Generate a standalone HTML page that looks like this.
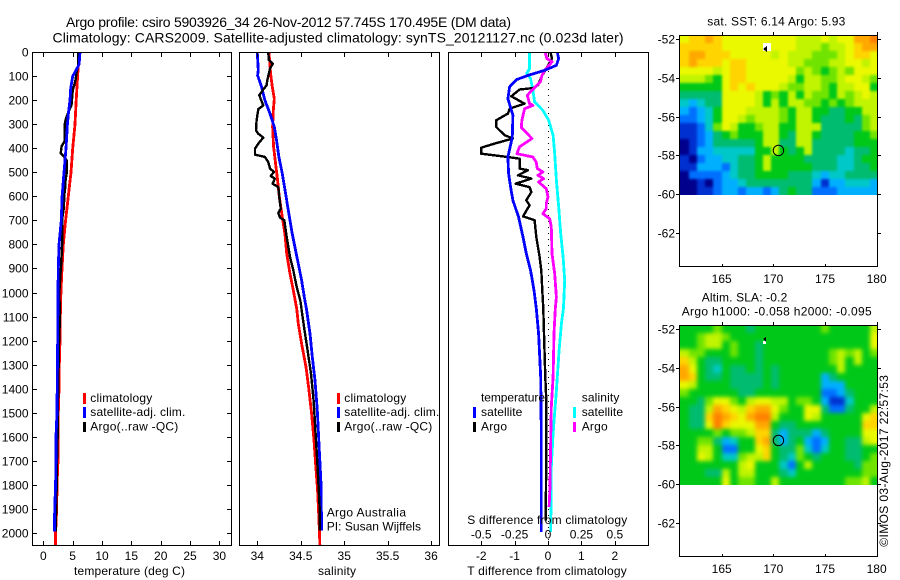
<!DOCTYPE html>
<html lang="en">
<head>
<meta charset="utf-8">
<title>Argo profile csiro 5903926_34</title>
<style>
  html, body { margin: 0; padding: 0; background: #fff; }
  svg { display: block; font-family: "Liberation Sans", sans-serif; font-size: 12px; fill: #000; }
  .title { font-size: 14px; }
  .frame { fill: none; stroke: #000; stroke-width: 1; shape-rendering: crispEdges; }
  .sw { shape-rendering: crispEdges; }
</style>
</head>
<body>
<svg id="chart" xmlns="http://www.w3.org/2000/svg" width="900" height="580" viewBox="0 0 900 580">
  <defs>
    <filter id="smoothSst" x="-5%" y="-5%" width="110%" height="110%" color-interpolation-filters="sRGB">
      <feGaussianBlur stdDeviation="1.2"/>
      <feComponentTransfer><feFuncA type="linear" slope="60"/></feComponentTransfer>
    </filter>
    <filter id="smoothSla" x="-8%" y="-8%" width="116%" height="116%" color-interpolation-filters="sRGB">
      <feGaussianBlur stdDeviation="2.2"/>
      <feComponentTransfer><feFuncA type="linear" slope="60"/></feComponentTransfer>
    </filter>
    <clipPath id="clipSst"><rect x="680" y="36" width="197" height="159"/></clipPath>
    <clipPath id="clipSla"><rect x="680" y="326" width="197" height="159"/></clipPath>
  </defs>
  <rect x="0" y="0" width="900" height="580" fill="#fff"/>

  <g clip-path="url(#clipSst)"><g id="sstCells" filter="url(#smoothSst)"></g></g>
  <g clip-path="url(#clipSla)"><g id="slaCells" filter="url(#smoothSla)"></g></g>
  <g id="maps"></g>
  <g id="marks"></g>
  <g id="axes"></g>

  <rect class="frame" x="32.5" y="52.5" width="199" height="493"/>
  <rect class="frame" x="239.5" y="52.5" width="200" height="493"/>
  <rect class="frame" x="448.5" y="52.5" width="200" height="493"/>
  <rect class="frame" x="679.5" y="35.5" width="198" height="231"/>
  <rect class="frame" x="679.5" y="325.5" width="198" height="231"/>

  <text class="title" x="66" y="27" textLength="445" lengthAdjust="spacing">Argo profile: csiro 5903926_34 26-Nov-2012 57.745S 170.495E (DM data)</text>
  <text class="title" x="52.5" y="42.5" textLength="571" lengthAdjust="spacing">Climatology: CARS2009. Satellite-adjusted climatology: synTS_20121127.nc (0.023d later)</text>

  <text x="74" y="575" textLength="111" lengthAdjust="spacing">temperature (deg C)</text>
  <text x="318" y="575" textLength="38" lengthAdjust="spacing">salinity</text>
  <text x="467.3" y="575" textLength="159.5" lengthAdjust="spacing">T difference from climatology</text>
  <text x="467.3" y="524" textLength="160" lengthAdjust="spacing">S difference from climatology</text>

  <g>
    <rect class="sw" x="83" y="393" width="3" height="11" fill="#f00"/>
    <rect class="sw" x="83" y="407" width="3" height="11" fill="#00f"/>
    <rect class="sw" x="83" y="422" width="3" height="10" fill="#000"/>
    <text x="90.3" y="402" textLength="62" lengthAdjust="spacing">climatology</text>
    <text x="90.3" y="416" textLength="95" lengthAdjust="spacing">satellite-adj. clim.</text>
    <text x="90.3" y="430.5" textLength="88" lengthAdjust="spacing">Argo(..raw -QC)</text>
  </g>
  <g>
    <rect class="sw" x="337" y="393" width="3" height="11" fill="#f00"/>
    <rect class="sw" x="337" y="407" width="3" height="11" fill="#00f"/>
    <rect class="sw" x="337" y="422" width="3" height="10" fill="#000"/>
    <text x="344.3" y="402" textLength="62" lengthAdjust="spacing">climatology</text>
    <text x="344.3" y="416" textLength="95" lengthAdjust="spacing">satellite-adj. clim.</text>
    <text x="344.3" y="430.5" textLength="88" lengthAdjust="spacing">Argo(..raw -QC)</text>
    <text x="326.7" y="516.7" textLength="79.3" lengthAdjust="spacing">Argo Australia</text>
    <text x="326.7" y="530.7" textLength="94.3" lengthAdjust="spacing">PI: Susan Wijffels</text>
  </g>
  <g>
    <text x="481" y="401.7" textLength="64" lengthAdjust="spacing">temperature</text>
    <rect class="sw" x="473" y="407" width="3" height="11" fill="#00f"/>
    <rect class="sw" x="473" y="422" width="3" height="10" fill="#000"/>
    <text x="481" y="416" textLength="41.3" lengthAdjust="spacing">satellite</text>
    <text x="481" y="430.5" textLength="26" lengthAdjust="spacing">Argo</text>
    <text x="581.7" y="401.7" textLength="37.7" lengthAdjust="spacing">salinity</text>
    <rect class="sw" x="573" y="407" width="3" height="11" fill="#0ff"/>
    <rect class="sw" x="573" y="422" width="3" height="10" fill="#f0f"/>
    <text x="581.7" y="416" textLength="41.3" lengthAdjust="spacing">satellite</text>
    <text x="581.7" y="430.5" textLength="26" lengthAdjust="spacing">Argo</text>
  </g>

  <text x="707.3" y="25.7" textLength="138" lengthAdjust="spacing">sat. SST: 6.14  Argo: 5.93</text>
  <text x="701.7" y="301.3" textLength="85.6" lengthAdjust="spacing">Altim. SLA: -0.2</text>
  <text x="681.7" y="315.7" textLength="190" lengthAdjust="spacing">Argo h1000: -0.058 h2000: -0.095</text>
  <text transform="translate(888 546.7) rotate(-90)" x="0" y="0" textLength="171.7" lengthAdjust="spacing">©IMOS 03-Aug-2017 22:57:53</text>
</svg>

<script>
/* ---------- temperature panel data (deg C vs depth in m) ---------- */
const tempClimDepth = [0,80,200,300,400,500,600,700,800,900,1000,1100,1200,1300,1400,1500,1600,1700,1800,1900,2000,2053];
const tempClimValue = [6.08,5.9,5.6,5.4,5.0,4.72,4.26,3.8,3.4,3.18,3.0,2.9,2.85,2.72,2.68,2.56,2.52,2.5,2.33,2.28,2.1,2.1];
const tempSatDepth = [0,50,60,100,150,200,250,300,400,500,600,700,800,900,1000,1200,1300,1400,1500,1600,1700,1800,1900,1995];
const tempSatValue = [6.25,6.1,5.9,5.0,4.67,4.55,4.3,4.1,3.87,3.52,3.2,3.07,2.67,2.56,2.5,2.45,2.4,2.36,2.33,2.16,2.14,2.1,1.94,1.9];
const tempArgoDepth = [0,50,80,120,160,220,250,280,300,350,370,390,420,430,450,500,530,560,590,650,690,800,900,1000,1100,1200,1300,1400,1500,1600,1700,1800,1900,1995];
const tempArgoValue = [5.97,5.97,5.7,5.45,5.0,4.8,4.26,3.8,3.64,3.64,3.64,3.13,2.96,3.4,3.98,4.0,3.8,3.75,3.6,3.5,3.24,3.2,3.0,2.72,2.84,2.7,2.6,2.55,2.45,2.44,2.33,2.28,2.2,2.1];

/* ---------- salinity panel data ---------- */
const salClimDepth = [3,33,89,144,193,242,311,394,464,533,602,686,755,838,922,991,1067,1130,1213,1310,1407,1504,1615,1713,1824,1949,2053];
const salClimValue = [34.134,34.142,34.153,34.173,34.196,34.184,34.176,34.188,34.211,34.234,34.253,34.288,34.318,34.338,34.376,34.414,34.453,34.472,34.51,34.56,34.595,34.625,34.652,34.671,34.694,34.71,34.72];
const salSatDepth = [3,75,96,144,200,255,311,367,436,505,588,658,741,811,880,949,1019,1067,1171,1268,1366,1491,1657,1796,1990];
const salSatValue = [34.0,34.012,34.004,34.05,34.088,34.146,34.196,34.222,34.249,34.288,34.326,34.357,34.395,34.433,34.472,34.51,34.541,34.565,34.606,34.633,34.664,34.69,34.713,34.733,34.74];
const salArgoDepth = [3,33,47,68,117,137,155,179,214,221,237,283,325,339,355,380,401,426,436,457,484,498,515,526,547,561,602,651,669,688,699,769,852,907,977,1033,1143,1241,1338,1449,1588,1727,1893,1990];
const salArgoValue = [34.127,34.134,34.18,34.146,34.115,34.107,34.069,34.023,34.061,34.069,34.012,33.992,33.985,34.012,34.069,34.012,33.973,33.973,34.088,34.127,34.146,34.192,34.154,34.203,34.176,34.242,34.253,34.269,34.242,34.261,34.311,34.338,34.376,34.414,34.453,34.495,34.537,34.579,34.618,34.648,34.671,34.694,34.717,34.72];

/* ---------- difference panel data ---------- */
const diffTSatDepth = [3,26,54,75,96,114,144,193,262,353,436,505,561,616,686,769,838,908,991,1067,1171,1352,1588,1997];
const diffTSatValue = [0.28,0.32,0.25,-0.1,-0.6,-0.95,-1.15,-1.2,-1.05,-1.07,-1.2,-1.18,-1.12,-1.05,-0.88,-0.75,-0.65,-0.52,-0.42,-0.35,-0.28,-0.22,-0.2,-0.2];
const diffTArgoDepth = [3,26,68,103,137,149,155,183,214,235,255,283,311,345,359,380,397,422,436,443,484,491,512,526,547,561,582,616,637,683,699,769,852,908,991,1067,1171,1352,1449,1671,1949];
const diffTArgoValue = [0.08,0.12,-0.05,-0.2,-0.3,-0.45,-0.85,-1.1,-0.7,-1.15,-1.2,-1.55,-1.55,-1.3,-1.05,-1.6,-2,-2,-1.2,-0.85,-0.85,-0.6,-0.9,-0.5,-0.97,-0.55,-0.5,-0.65,-0.55,-0.75,-0.4,-0.35,-0.25,-0.2,-0.17,-0.14,-0.12,-0.08,-0.05,-0.05,-0.07];
const diffSSatDepth = [3,68,86,110,158,207,242,283,345,422,533,644,755,852,949,1019,1067,1130,1241,1407,1588,1727,1997];
const diffSSatValue = [-0.138,-0.138,-0.158,-0.13,-0.113,-0.1,-0.038,0.005,0.038,0.05,0.063,0.08,0.095,0.113,0.125,0.12,0.115,0.1,0.083,0.063,0.038,0.025,0.02];
const diffSArgoDepth = [3,26,40,75,96,123,158,179,214,221,235,283,314,359,394,422,436,457,484,498,512,526,540,568,602,630,651,672,693,727,838,922,1019,1067,1171,1352,1477,1615,1810,1893];
const diffSArgoValue = [-0.02,-0.008,0.03,-0.025,-0.045,-0.058,-0.12,-0.155,-0.138,-0.113,-0.175,-0.195,-0.2,-0.12,-0.213,-0.233,-0.113,-0.088,-0.08,-0.038,-0.075,-0.033,-0.07,-0.013,0,-0.013,-0.013,-0.038,0.013,0.025,0.03,0.05,0.063,0.055,0.045,0.038,0.025,0.02,0.015,0.008];

/* ---------- tick labels ---------- */
const depthTicks = [0,100,200,300,400,500,600,700,800,900,1000,1100,1200,1300,1400,1500,1600,1700,1800,1900,2000];
const tempTicks = [0,5,10,15,20,25,30];
const salTicks = [34,34.5,35,35.5,36];
const diffTTicks = [-2,-1,0,1,2];
const diffSTicks = [-0.5,-0.25,0,0.25,0.5];
const latTicks = [-52,-54,-56,-58,-60,-62];
const lonTicks = [165,170,175,180];
const floatLon = 170.495;
const floatLat = -57.745;

/* ---------- SST map (colour level per cell, null = no data) ---------- */
const sstGrid = [
[9,10,10,11,10,9,9,9,9,9,9,9,9,9,8,8,8,9,8,9,9,11,11,12],
[10,10,10,10,10,9,9,9,9,9,null,9,9,9,8,8,8,7,8,8,9,10,11,11],
[10,11,11,10,10,10,9,9,9,9,9,8,9,8,8,8,7,7,7,8,9,10,10,9],
[10,11,10,10,10,9,10,10,9,9,9,9,9,8,8,7,7,7,8,8,9,9,8,9],
[9,9,9,9,8,9,10,10,9,9,9,9,9,9,7,8,7,6,7,8,7,9,9,9],
[8,8,8,7,6,9,10,10,9,9,9,9,9,8,6,8,8,7,7,8,9,9,8,7],
[6,6,6,6,6,9,10,9,10,9,9,9,8,7,7,8,8,7,6,8,8,9,9,6],
[5,5,5,5,5,9,9,9,9,8,6,7,6,8,6,8,7,7,6,8,7,8,9,8],
[4,3,4,5,5,9,9,9,9,8,6,8,6,8,8,7,7,6,7,6,7,8,8,8],
[3,2,3,4,6,9,9,9,8,8,8,8,7,6,8,8,6,6,5,5,6,6,8,8],
[2,2,3,4,6,9,9,8,7,8,8,8,7,6,8,8,6,5,5,5,6,5,7,8],
[1,1,2,4,7,9,8,6,6,7,8,8,6,6,8,8,8,5,5,5,5,5,7,8],
[1,1,2,3,5,6,7,6,6,6,8,8,6,5,8,8,6,5,5,5,5,6,6,7],
[0,1,2,3,5,5,5,5,5,6,8,8,5,5,8,8,5,5,5,5,5,6,6,6],
[0,1,3,3,4,4,4,4,4,6,6,8,6,5,6,8,5,5,5,5,4,5,5,6],
[1,0,2,3,3,4,4,5,5,6,8,6,6,6,6,5,5,5,5,4,4,5,6,6],
[1,1,3,3,3,2,4,5,5,6,8,6,6,6,6,6,5,5,5,4,4,5,5,6],
[0,2,2,2,2,3,4,5,5,6,6,6,6,5,5,5,4,3,4,4,5,5,5,5],
[0,0,1,0,2,3,3,4,5,5,5,5,5,5,5,5,3,1,3,3,4,4,4,3],
[0,0,1,1,2,3,3,2,3,3,2,3,5,6,5,5,2,2,2,3,3,3,3,3]
];

/* ---------- altimetry SLA map (colour level per cell) ---------- */
const slaGrid = [
[6,6,6,6,7,6,6,6,5,6,6,6,6,6,6,6,6,7,6,6,6,6,6,8],
[6,6,7,8,8,7,6,6,6,6,6,6,6,6,6,6,6,6,6,6,6,6,6,9],
[6,6,7,8,8,6,7,6,6,5,6,6,6,6,6,6,6,6,6,6,6,6,6,9],
[8,7,7,6,6,6,7,6,6,5,6,6,6,6,6,6,6,6,7,8,7,8,6,7],
[10,8,6,5,5,6,6,6,6,5,6,6,6,6,6,6,6,6,7,8,6,8,6,6],
[11,9,6,5,4,6,5,5,6,5,6,5,6,6,6,6,6,6,6,8,6,6,6,6],
[11,10,6,5,5,6,5,5,5,5,6,5,6,6,6,6,6,3,5,6,6,6,6,6],
[9,8,6,6,6,6,5,5,5,5,6,5,6,6,6,6,6,3,3,3,6,6,6,6],
[7,6,6,6,6,6,6,5,5,6,6,6,6,6,6,6,6,2,2,3,5,6,6,6],
[6,6,5,7,9,9,7,6,8,9,9,8,8,6,7,7,6,3,1,1,4,6,6,6],
[6,5,5,8,11,10,9,8,10,11,11,9,7,6,6,9,9,5,2,2,5,6,6,8],
[6,5,5,10,12,11,10,9,11,12,12,8,6,6,6,9,8,6,6,6,6,6,9,10],
[6,5,5,9,12,10,9,9,9,11,11,6,5,5,6,6,6,6,6,6,6,6,10,10],
[6,6,6,6,7,6,7,7,8,10,10,5,3,5,5,5,3,5,6,6,6,6,9,9],
[6,6,7,7,5,3,4,6,6,10,11,5,3,5,6,3,2,3,6,6,5,5,8,9],
[6,6,8,8,6,2,2,6,6,9,10,6,5,5,7,4,2,4,6,6,5,5,6,6],
[6,6,9,8,6,4,4,7,8,8,10,6,5,4,7,6,5,6,6,6,5,5,6,7],
[6,6,6,6,6,6,6,8,9,6,6,6,4,2,6,8,6,6,6,6,6,5,7,7],
[6,6,6,5,5,8,6,8,8,6,6,6,5,4,6,6,6,6,6,6,6,6,7,7],
[6,6,6,6,6,9,6,7,7,6,6,8,6,6,6,6,6,6,6,6,7,7,8,6]
];

const levelColours = ['#00008c','#0030d0','#0070ff','#00b0ff','#00c8c8','#00bc70','#00c818','#70e400','#c0f400','#eaf800','#ffd400','#ffa800','#ff8000'];

const NS = 'http://www.w3.org/2000/svg';
const mapsLayer = document.getElementById('maps');
const sstLayer = document.getElementById('sstCells');
const slaLayer = document.getElementById('slaCells');
const marksLayer = document.getElementById('marks');
const axesLayer = document.getElementById('axes');

function mk(parent, tag, attrs, name) {
  const el = document.createElementNS(NS, tag);
  for (const k in attrs) el.setAttribute(k, attrs[k]);
  
  
  parent.appendChild(el);
  return el;
}
function label(str, x, y, anchor, name) {
  const t = mk(axesLayer, 'text', { x: x, y: y, 'text-anchor': anchor }, name);
  t.textContent = str;
  return t;
}
function tick(x1, y1, x2, y2, name) {
  mk(axesLayer, 'line', { x1: x1, y1: y1, x2: x2, y2: y2, stroke: '#000', 'stroke-width': 1, 'shape-rendering': 'crispEdges' }, name);
}

/* axis functions */
const depthY = d => 52.3 + d * 0.2402;
const tempX = t => 43.3 + t * 5.87;
const salX = s => 257.3 + (s - 34) * 86.9;
const diffTX = t => 548 + t * 33.4;
const diffSX = s => diffTX(s * 4);
const lonX = lon => 721.7 + (lon - 165) * 10.33;
const latOffsetTop = 39, latOffsetBottom = 329;
const latY = (lat, top) => top + (-52 - lat) * 19.4;

function drawSeries(depths, values, xFn, colour, width, name) {
  const pts = depths.map((d, i) => xFn(values[i]).toFixed(1) + ',' + depthY(d).toFixed(1)).join(' ');
  mk(marksLayer, 'polyline', {
    points: pts, fill: 'none', stroke: colour, 'stroke-width': width,
    'stroke-linejoin': 'round', 'shape-rendering': 'crispEdges'
  }, name);
}

/* profile lines */
drawSeries(tempClimDepth, tempClimValue, tempX, '#f00', 2.8, 'temperature-climatology-line');
drawSeries(tempArgoDepth, tempArgoValue, tempX, '#000', 2.4, 'temperature-argo-line');
drawSeries(tempSatDepth, tempSatValue, tempX, '#00f', 2.8, 'temperature-satellite-line');

drawSeries(salClimDepth, salClimValue, salX, '#f00', 2.8, 'salinity-climatology-line');
drawSeries(salSatDepth, salSatValue, salX, '#00f', 2.8, 'salinity-satellite-line');
drawSeries(salArgoDepth, salArgoValue, salX, '#000', 2.4, 'salinity-argo-line');

mk(marksLayer, 'line', { x1: diffTX(0) + 0.5, y1: 53, x2: diffTX(0) + 0.5, y2: 545, stroke: '#000', 'stroke-width': 1, 'stroke-dasharray': '1 5', 'shape-rendering': 'crispEdges' }, 'zero-difference-line');
drawSeries(diffSSatDepth, diffSSatValue, diffSX, '#0ff', 2.8, 'salinity-difference-satellite-line');
drawSeries(diffTArgoDepth, diffTArgoValue, diffTX, '#000', 2.4, 'temperature-difference-argo-line');
drawSeries(diffSArgoDepth, diffSArgoValue, diffSX, '#f0f', 2.8, 'salinity-difference-argo-line');
drawSeries(diffTSatDepth, diffTSatValue, diffTX, '#00f', 2.8, 'temperature-difference-satellite-line');

/* heat maps */
function drawMap(grid, layer, top, cellName) {
  const rows = grid.length;
  const cols = grid[0].length;
  const west = 161, east = 180.17, north = -51.8, south = -60.05;
  for (let r = 0; r < rows; r++) {
    const y0 = Math.round(latY(north + (south - north) * r / rows, top));
    const y1 = Math.round(latY(north + (south - north) * (r + 1) / rows, top));
    for (let c = 0; c < cols; c++) {
      const level = grid[r][c];
      const x0 = Math.round(lonX(west + (east - west) * c / cols));
      const x1 = Math.round(lonX(west + (east - west) * (c + 1) / cols));
      if (level === null) {
        mk(mapsLayer, 'rect', { x: x0, y: y0, width: x1 - x0, height: y1 - y0, fill: '#fff', 'shape-rendering': 'crispEdges' }, cellName + '-no-data');
        continue;
      }
      mk(layer, 'rect', { x: x0, y: y0, width: x1 - x0, height: y1 - y0, fill: levelColours[level], 'shape-rendering': 'crispEdges' }, cellName);
    }
  }
}
drawMap(sstGrid, sstLayer, latOffsetTop, 'sst-cell');
drawMap(slaGrid, slaLayer, latOffsetBottom, 'sla-cell');

/* land markers and float position */
mk(mapsLayer, 'polygon', { points: '763,49 767,46 767,52', fill: '#000', 'shape-rendering': 'crispEdges' }, 'sst-island-marker');
mk(mapsLayer, 'rect', { x: 763, y: 341, width: 3, height: 3, fill: '#fff', 'shape-rendering': 'crispEdges' }, 'sla-island-gap');
mk(mapsLayer, 'polygon', { points: '763,339 766,337 766,342', fill: '#000', 'shape-rendering': 'crispEdges' }, 'sla-island-marker');
mk(mapsLayer, 'circle', { cx: lonX(floatLon), cy: latY(floatLat, latOffsetTop), r: 5.2, fill: 'none', stroke: '#000', 'stroke-width': 1 }, 'sst-float-position');
mk(mapsLayer, 'circle', { cx: lonX(floatLon), cy: latY(floatLat, latOffsetBottom), r: 5.2, fill: 'none', stroke: '#000', 'stroke-width': 1 }, 'sla-float-position');

/* depth axis on the temperature panel */
depthTicks.forEach(d => {
  const y = Math.round(depthY(d)) + 0.5;
  if (d > 0) {
    tick(33, y, 37, y, 'depth-tick-left');
    tick(227, y, 231, y, 'depth-tick-right');
  }
  label(String(d), 28.5, Math.round(depthY(d)) + 4.5, 'end', 'depth-tick-label');
});

/* bottom axes */
function xAxis(ticks, xFn, name, fmt, labelY) {
  ticks.forEach(v => {
    const x = Math.round(xFn(v)) + 0.5;
    tick(x, 53, x, 57, name + '-top-tick');
    tick(x, 541, x, 545, name + '-bottom-tick');
    label(fmt(v), xFn(v), labelY, 'middle', name + '-tick-label');
  });
}
xAxis(tempTicks, tempX, 'temperature', String, 560);
xAxis(salTicks, salX, 'salinity', String, 560);
xAxis(diffTTicks, diffTX, 't-difference', String, 560);
diffSTicks.forEach(v => {
  label(String(v), diffSX(v), 538.7, 'middle', 's-difference-tick-label');
});

/* map axes */
function mapAxes(boxTop, boxBottom, latTop, name) {
  latTicks.forEach(lat => {
    const y = Math.round(latY(lat, latTop)) + 0.5;
    tick(676, y, 679, y, name + '-lat-tick-left');
    tick(878, y, 881, y, name + '-lat-tick-right');
    label(String(lat), 675, y + 4, 'end', name + '-lat-tick-label');
  });
  lonTicks.forEach(lon => {
    const x = Math.round(lonX(lon)) + 0.5;
    tick(x, boxTop - 3, x, boxTop, name + '-lon-tick-top');
    tick(x, boxBottom - 3, x, boxBottom, name + '-lon-tick-bottom');
    label(String(lon), lonX(lon), boxBottom + 16, 'middle', name + '-lon-tick-label');
  });
}
mapAxes(35, 267, latOffsetTop, 'sst-map');
mapAxes(325, 557, latOffsetBottom, 'sla-map');
</script>
</body>
</html>
